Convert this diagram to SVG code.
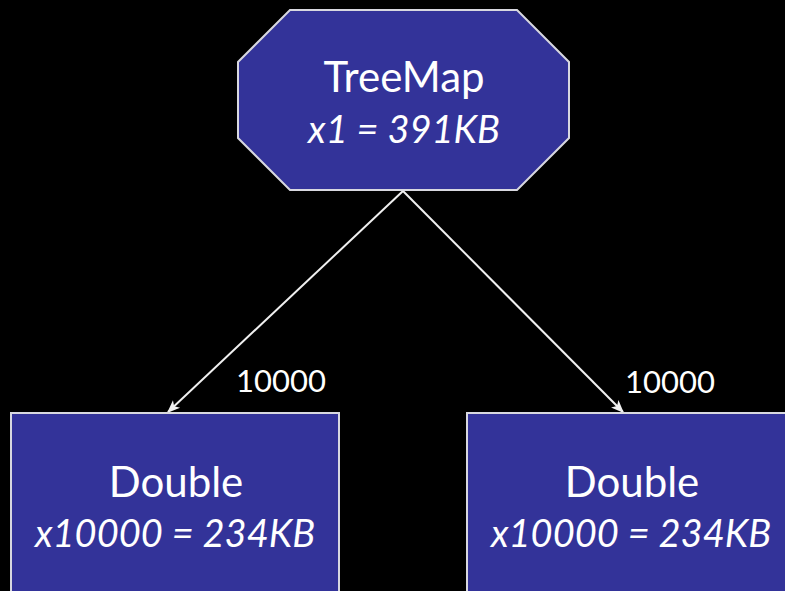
<svg xmlns="http://www.w3.org/2000/svg" width="785" height="591" viewBox="0 0 785 591">
<defs>
<style>
.node{fill:#333399;stroke:#d8d8e0;stroke-width:2}
.t{font-family:Lato,"Open Sans","Liberation Sans",sans-serif;fill:#ffffff;text-anchor:middle;font-size:42px}
.i{font-style:italic;font-size:38px}
.lbl{font-family:Lato,"Open Sans","Liberation Sans",sans-serif;fill:#ffffff;font-size:31px}
.edge{stroke:#f0f0f0;stroke-width:2;fill:none}
</style>
<marker id="arr" viewBox="0 0 10 10" refX="9" refY="5" markerWidth="13" markerHeight="13" markerUnits="userSpaceOnUse" orient="auto">
<path d="M0,1 L10,5 L0,9 L2.5,5 z" fill="#f0f0f0"/>
</marker>
</defs>
<rect x="0" y="0" width="785" height="591" fill="#000000"/>
<g id="connectors">
<line class="edge" x1="403" y1="191" x2="168" y2="412" marker-end="url(#arr)"/>
<line class="edge" x1="403" y1="191" x2="623" y2="412" marker-end="url(#arr)"/>
<text class="lbl" x="236" y="392">10000</text>
<text class="lbl" x="625" y="393">10000</text>
</g>
<g id="treemap">
<polygon class="node" points="290,10 517,10 569,62 569,138 517,190 290,190 238,138 238,62"/>
<text class="t" x="404" y="92">TreeMap</text>
<text class="t i" x="404" y="143">x1 = 391KB</text>
</g>
<g id="double-left">
<rect class="node" x="11" y="413" width="328" height="190"/>
<text class="t" x="176" y="497">Double</text>
<text class="t i" x="175" y="547">x10000 = 234KB</text>
</g>
<g id="double-right">
<rect class="node" x="467" y="413" width="328" height="190"/>
<text class="t" x="632" y="497">Double</text>
<text class="t i" x="631" y="547">x10000 = 234KB</text>
</g>
</svg>
